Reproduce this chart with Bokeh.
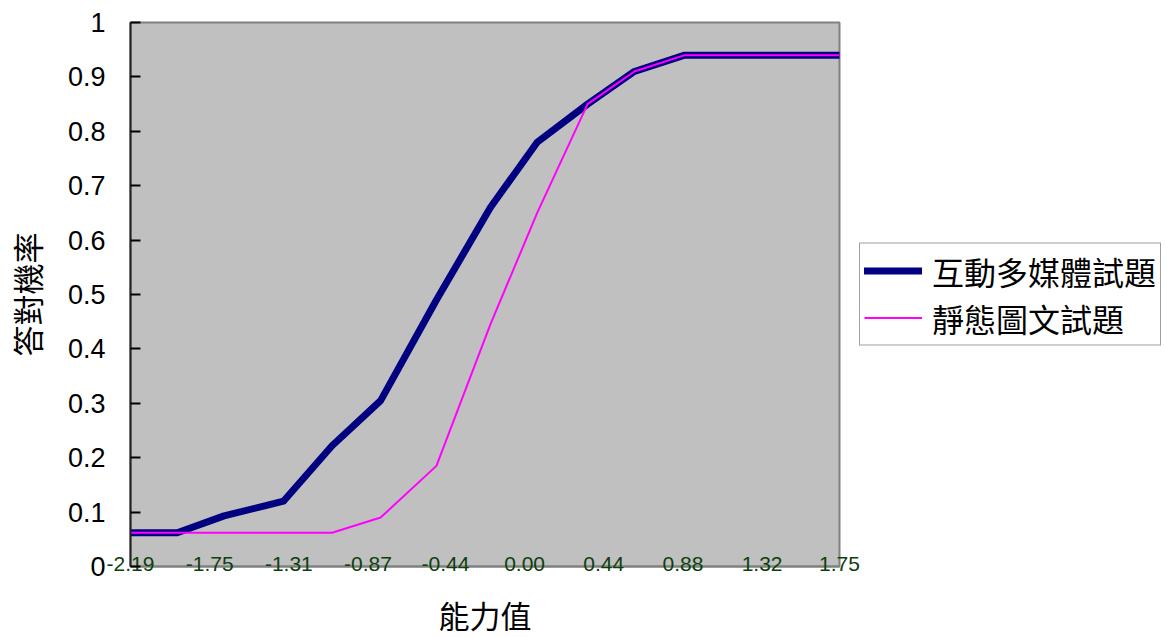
from bokeh.plotting import figure
from bokeh.models import (Range1d, FixedTicker, NumeralTickFormatter, Legend, LegendItem)
from bokeh.embed import file_html
from bokeh.resources import INLINE

# ---- data ----
ability = [-2.19, -1.93, -1.67, -1.34, -1.07, -0.80, -0.49, -0.19, 0.07, 0.35, 0.61, 0.89, 1.75]
interactive = [0.062, 0.062, 0.093, 0.12, 0.222, 0.305, 0.49, 0.66, 0.78, 0.85, 0.91, 0.94, 0.94]
static = [0.062, 0.062, 0.062, 0.062, 0.062, 0.09, 0.185, 0.445, 0.65, 0.85, 0.91, 0.94, 0.94]

x_tick_values = [-2.19, -1.75, -1.31, -0.87, -0.44, 0.00, 0.44, 0.88, 1.32, 1.75]
x_tick_labels = ["-2.19", "-1.75", "-1.31", "-0.87", "-0.44", "0.00", "0.44", "0.88", "1.32", "1.75"]
y_tick_values = [0, 0.1, 0.2, 0.3, 0.4, 0.5, 0.6, 0.7, 0.8, 0.9, 1.0]

series_names = ["互動多媒體試題", "靜態圖文試題"]
x_title = "能力值"
y_title = "答對機率"

CJK = "Noto Sans CJK TC"
LAT = "Liberation Sans"

p = figure(frame_width=709, frame_height=544, output_backend="svg", toolbar_location=None,
           x_range=Range1d(-2.19, 1.75), y_range=Range1d(0, 1),
           min_border_left=127, min_border_top=22, min_border_bottom=71, min_border_right=300)

p.background_fill_color = "#C0C0C0"
p.border_fill_color = "white"
p.outline_line_color = "#808080"
p.outline_line_width = 2
p.xgrid.visible = False
p.ygrid.visible = False

r1 = p.line(ability, interactive, line_color="#000080", line_width=7, line_join="round", line_cap="round")
r2 = p.line(ability, static, line_color="#FF00FF", line_width=2, line_join="round")

# x axis
xa = p.xaxis[0]
xa.ticker = FixedTicker(ticks=x_tick_values)
xa.major_label_overrides = {v: l for v, l in zip(x_tick_values, x_tick_labels)}
xa.major_tick_in = 0
xa.major_tick_out = 0
xa.minor_tick_in = 0
xa.minor_tick_out = 0
xa.major_label_standoff = -10
xa.major_label_text_font = LAT
xa.major_label_text_font_size = "21px"
xa.major_label_text_color = "#0c3f0c"
xa.axis_line_color = "#808080"
xa.axis_line_width = 2
xa.axis_label = x_title
xa.axis_label_text_font = CJK
xa.axis_label_text_font_size = "31px"
xa.axis_label_text_font_style = "normal"
xa.axis_label_text_color = "black"
xa.axis_label_text_line_height = 1.0
xa.axis_label_standoff = 18

# y axis
ya = p.yaxis[0]
ya.ticker = FixedTicker(ticks=y_tick_values)
ya.formatter = NumeralTickFormatter(format="0.[0]")
ya.major_tick_in = 10
ya.major_tick_out = 0
ya.minor_tick_in = 0
ya.minor_tick_out = 0
ya.major_tick_line_color = "black"
ya.major_tick_line_width = 2
ya.major_label_standoff = 25
ya.major_label_text_font = LAT
ya.major_label_text_font_size = "27px"
ya.major_label_text_color = "black"
ya.axis_line_color = "#222222"
ya.axis_line_width = 2
ya.axis_label = y_title
ya.axis_label_text_font = CJK
ya.axis_label_text_font_size = "31px"
ya.axis_label_text_font_style = "normal"
ya.axis_label_text_color = "black"
ya.axis_label_text_line_height = 1.0
ya.axis_label_standoff = 16

legend = Legend(items=[LegendItem(label=series_names[0], renderers=[r1]),
                       LegendItem(label=series_names[1], renderers=[r2])],
                location="center_left")
legend.label_text_font = CJK
legend.label_text_font_size = "32px"
legend.label_text_line_height = 1.0
legend.label_text_color = "black"
legend.glyph_width = 58
legend.glyph_height = 36
legend.label_height = 36
legend.label_standoff = 10
legend.padding = 4
legend.spacing = 1
legend.margin = 20
legend.border_line_color = "#404040"
legend.border_line_width = 1
legend.background_fill_color = "white"
legend.background_fill_alpha = 1
p.add_layout(legend, "right")

open("out.html", "w").write(file_html(p, INLINE))
